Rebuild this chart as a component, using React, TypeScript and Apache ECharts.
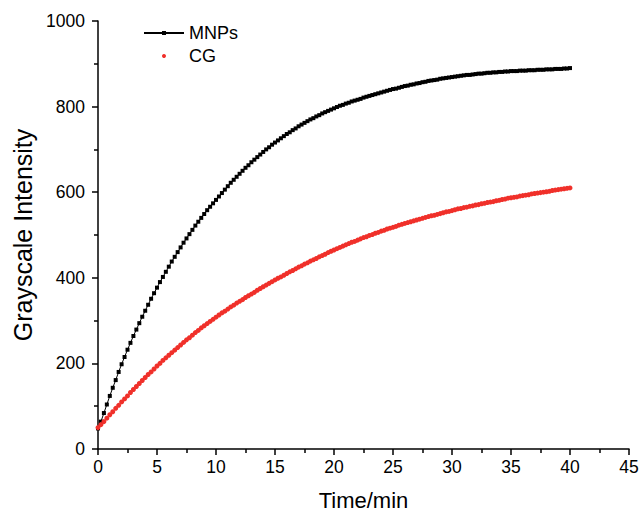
import React, { useEffect, useRef } from "react";
import * as echarts from "echarts";

// Sampling times (min)
const timeMin = [
  0, 0.25, 0.5, 0.75, 1, 1.25, 1.5, 1.75, 2, 2.25, 2.5, 2.75, 3, 3.25, 3.5, 3.75,
  4, 4.25, 4.5, 4.75, 5, 5.25, 5.5, 5.75, 6, 6.25, 6.5, 6.75, 7, 7.25, 7.5, 7.75,
  8, 8.25, 8.5, 8.75, 9, 9.25, 9.5, 9.75, 10, 10.25, 10.5, 10.75, 11, 11.25, 11.5, 11.75,
  12, 12.25, 12.5, 12.75, 13, 13.25, 13.5, 13.75, 14, 14.25, 14.5, 14.75, 15, 15.25, 15.5, 15.75,
  16, 16.25, 16.5, 16.75, 17, 17.25, 17.5, 17.75, 18, 18.25, 18.5, 18.75, 19, 19.25, 19.5, 19.75,
  20, 20.25, 20.5, 20.75, 21, 21.25, 21.5, 21.75, 22, 22.25, 22.5, 22.75, 23, 23.25, 23.5, 23.75,
  24, 24.25, 24.5, 24.75, 25, 25.25, 25.5, 25.75, 26, 26.25, 26.5, 26.75, 27, 27.25, 27.5, 27.75,
  28, 28.25, 28.5, 28.75, 29, 29.25, 29.5, 29.75, 30, 30.25, 30.5, 30.75, 31, 31.25, 31.5, 31.75,
  32, 32.25, 32.5, 32.75, 33, 33.25, 33.5, 33.75, 34, 34.25, 34.5, 34.75, 35, 35.25, 35.5, 35.75,
  36, 36.25, 36.5, 36.75, 37, 37.25, 37.5, 37.75, 38, 38.25, 38.5, 38.75, 39, 39.25, 39.5, 39.75,
  40,
];

// MNPs grayscale intensity
const mnpsValues = [
  48, 64, 84, 104, 124, 143, 161, 180, 198, 215, 232, 248, 264, 279, 294, 309,
  323, 337, 351, 364, 377, 390, 402, 414, 426, 438, 449, 460, 471, 482, 492, 502,
  512, 522, 531, 540, 549, 558, 566, 574, 582, 590, 598, 606, 614, 622, 629, 636,
  643, 650, 657, 663, 670, 676, 682, 688, 694, 700, 705, 711, 716, 721, 726, 731,
  736, 740, 745, 749, 754, 758, 762, 766, 770, 773, 777, 780, 784, 787, 790, 793,
  796, 799, 802, 804, 807, 809, 812, 814, 816, 818, 821, 823, 825, 827, 829, 831,
  833, 835, 837, 839, 841, 842, 844, 846, 848, 849, 851, 852, 854, 855, 857, 858,
  860, 861, 862, 863, 865, 866, 867, 868, 869, 870, 871, 872, 873, 874, 874, 875,
  876, 877, 877, 878, 879, 879, 880, 880, 881, 881, 882, 882, 883, 883, 883, 884,
  884, 884, 885, 885, 885, 886, 886, 886, 887, 887, 887, 888, 888, 888, 889, 889,
  890,
];

// CG grayscale intensity
const cgValues = [
  50, 57, 64, 72, 80, 87, 95, 102, 110, 117, 124, 132, 139, 146, 153, 160,
  167, 174, 180, 187, 194, 200, 207, 213, 219, 225, 231, 237, 243, 249, 255, 260,
  266, 272, 277, 283, 288, 293, 298, 303, 308, 313, 318, 322, 327, 332, 336, 341,
  345, 349, 354, 358, 362, 366, 371, 375, 379, 383, 387, 391, 395, 399, 402, 406,
  410, 414, 417, 421, 425, 428, 432, 435, 439, 442, 445, 449, 452, 455, 459, 462,
  465, 468, 471, 474, 477, 480, 483, 485, 488, 491, 494, 496, 499, 501, 504, 506,
  509, 511, 514, 516, 518, 520, 523, 525, 527, 529, 531, 533, 535, 537, 539, 541,
  543, 545, 546, 548, 550, 552, 554, 555, 557, 559, 561, 562, 564, 565, 567, 568,
  570, 571, 573, 574, 576, 577, 578, 580, 581, 583, 584, 586, 587, 588, 589, 591,
  592, 593, 594, 596, 597, 598, 599, 600, 601, 602, 604, 605, 606, 607, 608, 609,
  610,
];

const xTickValues = [0, 5, 10, 15, 20, 25, 30, 35, 40, 45];
const yTickValues = [0, 200, 400, 600, 800, 1000];

const seriesNames = ["MNPs", "CG"];
const xAxisTitle = "Time/min";
const yAxisTitle = "Grayscale Intensity";

const FONT = "'Liberation Sans', Arial, sans-serif";

export default function App() {
  const ref = useRef<HTMLDivElement>(null);

  useEffect(() => {
    document.body.style.margin = "0";
    const chart = echarts.init(ref.current!, null, { renderer: "svg" });

    const axisCommon = {
      axisLine: { show: true, onZero: false, lineStyle: { color: "#000", width: 1.5 } },
      axisTick: { show: true, inside: false, length: 6, lineStyle: { color: "#000", width: 1.5 } },
      minorTick: { show: true, splitNumber: 2, length: 4, lineStyle: { color: "#000", width: 1.5 } },
      splitLine: { show: false },
      minorSplitLine: { show: false },
    };

    chart.setOption({
      animation: false,
      backgroundColor: "#fff",
      textStyle: { fontFamily: FONT },
      grid: { left: 98, right: 13, top: 21, bottom: 68, containLabel: false },
      legend: {
        orient: "vertical",
        left: 143,
        top: 24,
        padding: 0,
        itemWidth: 40,
        itemHeight: 5,
        itemGap: 5,
        data: seriesNames,
        textStyle: { fontSize: 18, color: "#000", fontFamily: FONT },
      },
      xAxis: {
        type: "value",
        min: xTickValues[0],
        max: xTickValues[xTickValues.length - 1],
        interval: xTickValues[1] - xTickValues[0],
        name: xAxisTitle,
        nameLocation: "middle",
        nameGap: 40,
        nameTextStyle: { fontSize: 22, color: "#000", fontFamily: FONT },
        ...axisCommon,
        axisLabel: { fontSize: 17.5, color: "#000", margin: 9, fontFamily: FONT },
      },
      yAxis: {
        type: "value",
        min: yTickValues[0],
        max: yTickValues[yTickValues.length - 1],
        interval: yTickValues[1] - yTickValues[0],
        name: yAxisTitle,
        nameLocation: "middle",
        nameRotate: 90,
        nameGap: 60,
        nameTextStyle: { fontSize: 25, color: "#000", fontFamily: FONT },
        ...axisCommon,
        axisLabel: {
          fontSize: 17.5,
          color: "#000",
          margin: 13,
          fontFamily: FONT,
          formatter: (v: number) => String(v),
        },
      },
      series: [
        {
          name: seriesNames[0],
          type: "line",
          data: timeMin.map((t, i) => [t, mnpsValues[i]]),
          symbol: "rect",
          symbolSize: 4,
          showAllSymbol: true,
          lineStyle: { color: "#000", width: 1 },
          itemStyle: { color: "#000" },
          z: 2,
        },
        {
          name: seriesNames[1],
          type: "line",
          data: timeMin.map((t, i) => [t, cgValues[i]]),
          symbol: "circle",
          symbolSize: 5,
          showAllSymbol: true,
          lineStyle: { width: 0, opacity: 0 },
          itemStyle: { color: "#f0302a" },
          z: 3,
        },
      ],
    });

    return () => chart.dispose();
  }, []);

  return <div ref={ref} style={{ width: 642, height: 517 }} />;
}
